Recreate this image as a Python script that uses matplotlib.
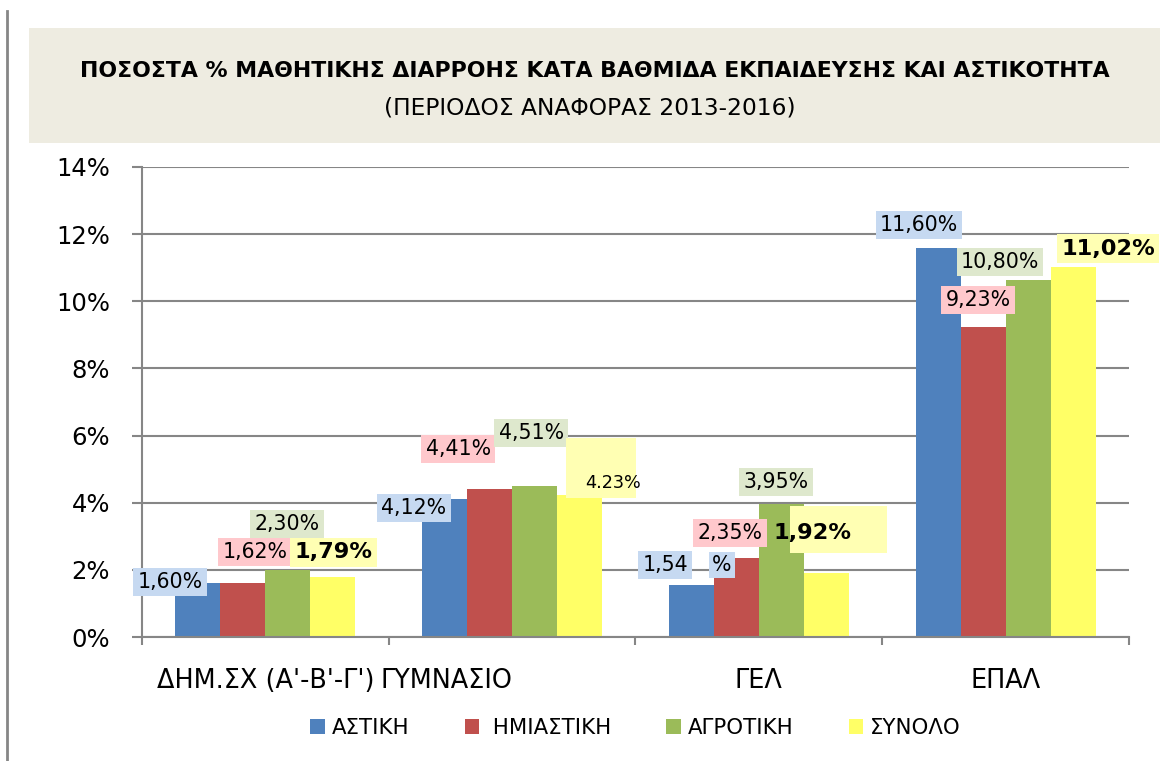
import matplotlib
matplotlib.use('Agg')
import matplotlib.pyplot as plt
import numpy as np
from matplotlib.patches import Rectangle
from matplotlib.lines import Line2D

categories = ["ΔΗΜ.ΣΧ (Α'-Β'-Γ')", 'ΓΥΜΝΑΣΙΟ', 'ΓΕΛ', 'ΕΠΑΛ']
series_names = ['ΑΣΤΙΚΗ', ' ΗΜΙΑΣΤΙΚΗ', 'ΑΓΡΟΤΙΚΗ', 'ΣΥΝΟΛΟ']

# bar heights in %
astiki = [1.60, 4.12, 1.54, 11.60]
imiastiki = [1.62, 4.41, 2.35, 9.23]
agrotiki = [2.01, 4.51, 3.97, 10.62]
synolo = [1.79, 4.23, 1.92, 11.02]

# data label texts as printed on the chart
astiki_labels = ['1,60%', '4,12%', '1,54', '11,60%']
imiastiki_labels = ['1,62%', '4,41%', '2,35%', '9,23%']
agrotiki_labels = ['2,30%', '4,51%', '3,95%', '10,80%']
synolo_labels = ['1,79%', '4.23%', '1,92%', '11,02%']

title = 'ΠΟΣΟΣΤΑ % ΜΑΘΗΤΙΚΗΣ ΔΙΑΡΡΟΗΣ ΚΑΤΑ ΒΑΘΜΙΔΑ ΕΚΠΑΙΔΕΥΣΗΣ ΚΑΙ ΑΣΤΙΚΟΤΗΤΑ'
subtitle = '(ΠΕΡΙΟΔΟΣ ΑΝΑΦΟΡΑΣ 2013-2016)'

series = [astiki, imiastiki, agrotiki, synolo]
labels = [astiki_labels, imiastiki_labels, agrotiki_labels, synolo_labels]
bar_colors = ['#4F81BD', '#C0504D', '#9BBB59', '#FFFF66']
box_colors = ['#C6D9F1', '#FFC8CC', '#DEE8CD', '#FFFFB3']

# label placement (offset from category centre, height in %), set by hand like in Excel
label_pos = [
    [(-0.387, 1.64), (-0.398, 3.84), (-0.380, 2.15), (-0.351, 12.27)],
    [(-0.042, 2.53), (-0.219, 5.60), (-0.117, 3.10), (-0.112, 10.04)],
    [(0.088, 3.37), (0.077, 6.08), (0.069, 4.62), (-0.023, 11.17)],
    [(0.278, 2.53), (0.409, 4.59), (0.219, 3.10), (0.415, 11.56)],
]

grey = '#868686'
plt.rcParams['font.family'] = ['DejaVu Sans']

fig = plt.figure(figsize=(11.67, 7.61), dpi=100)
fig.patches.append(Rectangle((0.0249, 0.8121), 0.969, 0.1511, transform=fig.transFigure,
                             facecolor='#EEECE1', edgecolor='none', zorder=0))
fig.add_artist(Line2D([0.006, 0.006], [0, 0.985], color=grey, lw=2))
fig.text(0.51, 0.907, title, ha='center', va='center', fontsize=15.8, fontweight='bold')
fig.text(0.5056, 0.858, subtitle, ha='center', va='center', fontsize=16.8)

ax = fig.add_axes([0.1217, 0.1629, 0.8457, 0.6177])
x = np.arange(len(categories))
w = 0.1824
for k in range(4):
    ax.bar(x + (k - 1.5) * w, series[k], w, color=bar_colors[k], label=series_names[k], zorder=2)

for k in range(4):
    for i in range(4):
        dx, y = label_pos[k][i]
        txt = labels[k][i]
        bold = k == 3 and i != 1
        if k == 3 and i == 1:
            ax.add_patch(Rectangle((i + 0.218, 4.14), 0.284, 1.79, facecolor=box_colors[k],
                                   edgecolor='none', zorder=3 + k))
            ax.text(i + dx, y, txt, ha='center', va='center', fontsize=12.7, zorder=3 + k)
            continue
        if k == 3 and i == 2:
            ax.add_patch(Rectangle((i + 0.126, 2.50), 0.393, 1.40, facecolor=box_colors[k],
                                   edgecolor='none', zorder=3 + k))
            ax.text(i + dx, y, txt, ha='center', va='center', fontsize=16.2,
                    fontweight='bold', zorder=3 + k)
            continue
        ax.text(i + dx, y, txt, ha='center', va='center',
                fontsize=16.2 if bold else 14.8, fontweight='bold' if bold else 'normal',
                bbox=dict(boxstyle='square,pad=0.2', fc=box_colors[k], ec='none'), zorder=3 + k)
        if k == 0 and i == 2:
            ax.text(i - 0.150, y, '%', ha='center', va='center', fontsize=14.8,
                    bbox=dict(boxstyle='square,pad=0.15', fc=box_colors[k], ec='none'), zorder=3)

ax.set_xlim(-0.5, 3.5)
ax.set_ylim(0, 14)
ax.set_yticks(np.arange(0, 15, 2))
ax.set_yticklabels([f'{v}%' for v in range(0, 15, 2)])
ax.grid(axis='y', color=grey, lw=1.5, zorder=0)
ax.set_axisbelow(True)

ax.set_xticks(np.arange(-0.5, 4, 1))
ax.set_xticklabels([])
ax.set_xticks(x, minor=True)
ax.set_xticklabels(categories, minor=True, fontsize=18.4)
ax.get_xticklabels(minor=True)[1].set_ha('right')
ax.tick_params(axis='x', which='major', length=6, width=1.5, color=grey)
ax.tick_params(axis='x', which='minor', length=0, pad=22)
ax.tick_params(axis='y', length=7.2, width=1.5, color=grey, labelsize=17.5, pad=15.8)

for side in ['top', 'right']:
    ax.spines[side].set_visible(False)
for side in ['left', 'bottom']:
    ax.spines[side].set_color(grey)
    ax.spines[side].set_linewidth(1.5)

ax.legend(loc='center', bbox_to_anchor=(0.5, -0.193), ncol=4, frameon=False, fontsize=15.3,
          handlelength=0.7, handleheight=0.7, handletextpad=0.3, columnspacing=2.6)

fig.savefig('out.png', dpi=100)
